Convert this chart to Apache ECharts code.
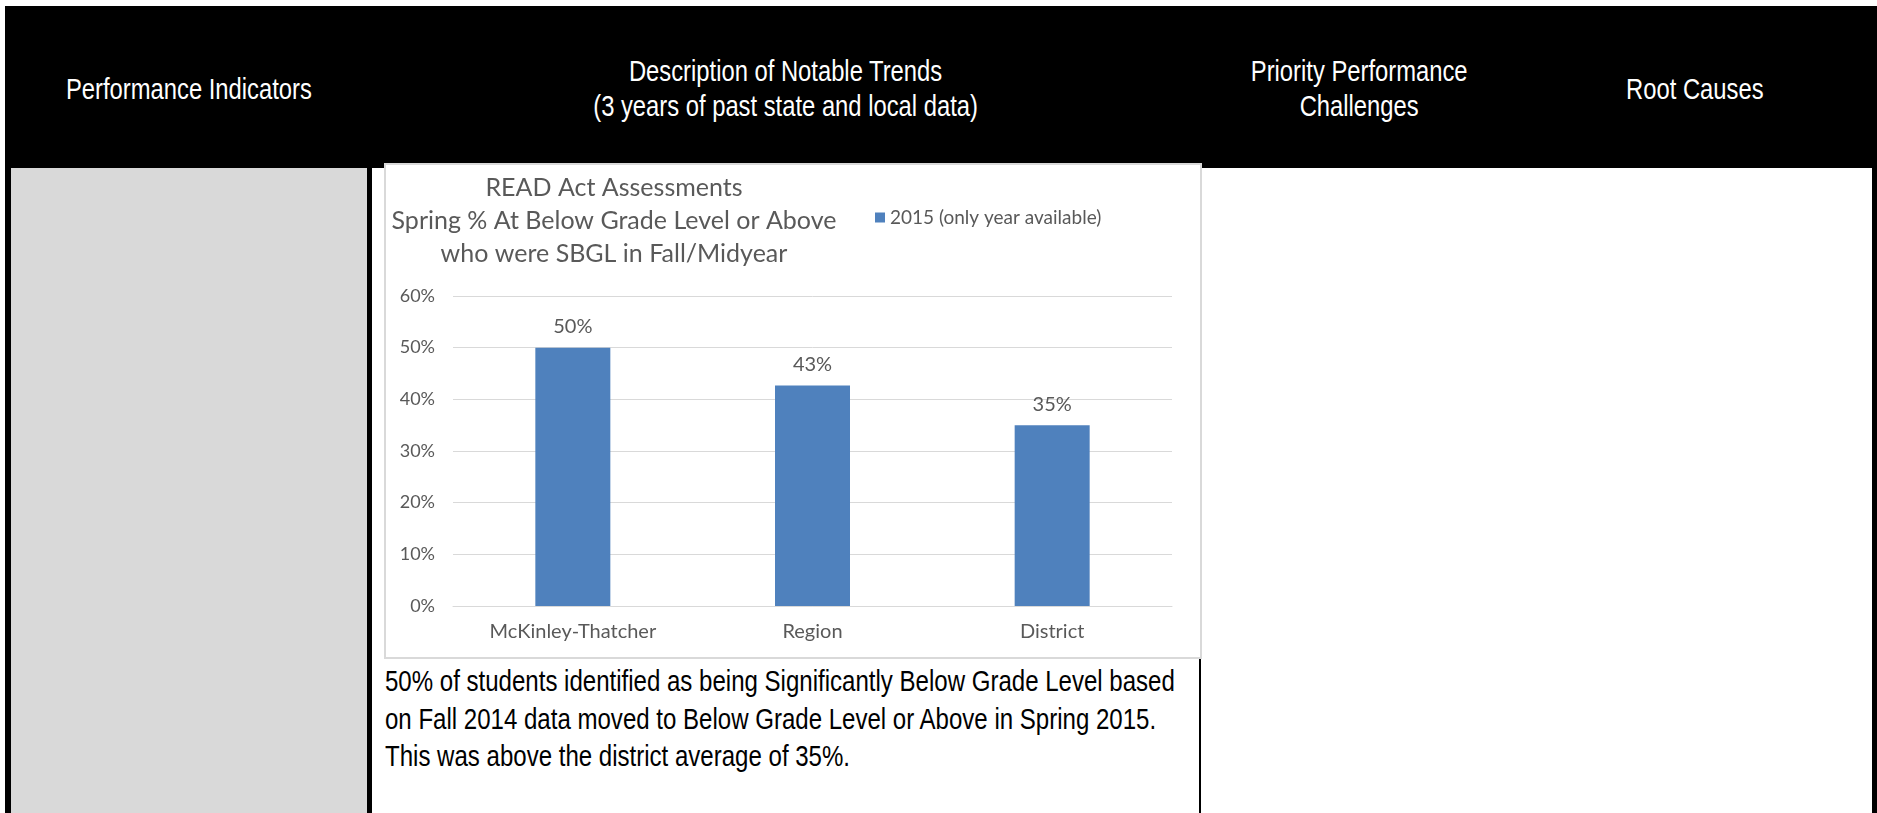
<!DOCTYPE html>
<html>
<head>
<meta charset="utf-8">
<script src="https://cdn.jsdelivr.net/npm/echarts@6/dist/echarts.min.js"></script>
<style>
  html, body { margin: 0; padding: 0; background: #fff; width: 1877px; height: 813px; overflow: hidden; }
  .abs { position: absolute; }
  #frame { left: 5px; top: 6px; width: 1872px; height: 807px; background: #000; }
  .cell { background: #fff; }
  #c1 { left: 11px; top: 168px; width: 356px; height: 645px; background: #d9d9d9; }
  #c2 { left: 372px; top: 168px; width: 827px; height: 645px; }
  #c3 { left: 1201px; top: 168px; width: 671px; height: 645px; }
  .hd { top: 6px; height: 166px; display: flex; align-items: center; justify-content: center; color: #fff;
        font-family: "Liberation Sans", Arial, sans-serif; font-size: 29px; line-height: 35px; text-align: center; }
  .hd span { display: inline-block; transform: scaleX(0.82); white-space: nowrap; }
  #chartBox { left: 384px; top: 163px; width: 814px; height: 492px; background: #fff; border: 2px solid #d9d9d9; }
  #chart { width: 814px; height: 492px; }
  #para { left: 385px; top: 663px; font-family: "Liberation Sans", Arial, sans-serif; font-size: 29px; line-height: 37.5px;
          color: #000; white-space: nowrap; transform: scaleX(0.829); transform-origin: 0 0; }
</style>
</head>
<body>
<div id="frame" class="abs"></div>
<div id="c1" class="abs"></div>
<div id="c2" class="abs cell"></div>
<div id="c3" class="abs cell"></div>
<div class="abs hd" style="left:11px;width:356px;"><span>Performance Indicators</span></div>
<div class="abs hd" style="left:372px;width:828px;"><span>Description of Notable Trends<br>(3 years of past state and local data)</span></div>
<div class="abs hd" style="left:1200px;width:318px;"><span>Priority Performance<br>Challenges</span></div>
<div class="abs hd" style="left:1518px;width:354px;"><span>Root Causes</span></div>
<div id="chartBox" class="abs"><div id="chart"></div></div>
<div id="para" class="abs">50% of students identified as being Significantly Below Grade Level based<br>on Fall 2014 data moved to Below Grade Level or Above in Spring 2015.<br>This was above the district average of 35%.</div>
<script>
const titleLines = ["READ Act Assessments", "Spring % At Below Grade Level or Above", "who were SBGL in Fall/Midyear"];
const categories = ["McKinley-Thatcher", "Region", "District"];
const seriesName = "2015 (only year available)";
const values2015 = [50, 42.7, 35];
const yTicks = { min: 0, max: 60, interval: 10 };

const FONT = "Lato, 'Open Sans', sans-serif";
const GRAY = "#595959";
const chart = echarts.init(document.getElementById('chart'), null, { renderer: 'canvas' });
chart.setOption({
  animation: false,
  backgroundColor: '#fff',
  title: {
    text: titleLines.join('\n'),
    left: 223, top: 1, textAlign: 'center',
    textStyle: { fontFamily: FONT, fontSize: 25, fontWeight: 'normal', color: GRAY, lineHeight: 33 }
  },
  legend: {
    data: [seriesName],
    left: 484, top: 38,
    itemWidth: 10, itemHeight: 10, itemGap: 6,
    icon: 'rect',
    textStyle: { fontFamily: FONT, fontSize: 19, color: GRAY }
  },
  grid: { left: 67, right: 28, top: 131, bottom: 51 },
  xAxis: {
    type: 'category', data: categories,
    axisLine: { lineStyle: { color: '#d9d9d9', width: 1 } },
    axisTick: { show: false },
    axisLabel: { fontFamily: FONT, fontSize: 20, color: GRAY, margin: 16 }
  },
  yAxis: {
    type: 'value', min: yTicks.min, max: yTicks.max, interval: yTicks.interval,
    axisLine: { show: false }, axisTick: { show: false },
    splitLine: { lineStyle: { color: '#d9d9d9', width: 1 } },
    axisLabel: { fontFamily: FONT, fontSize: 18, color: GRAY, margin: 18, formatter: '{value}%' }
  },
  series: [{
    name: seriesName, type: 'bar', data: values2015,
    barWidth: 75,
    itemStyle: { color: '#4f81bd' },
    label: { show: true, position: 'top', distance: 11, fontFamily: FONT, fontSize: 20, color: GRAY,
             formatter: p => Math.round(p.value) + '%' }
  }]
});
</script>
</body>
</html>
